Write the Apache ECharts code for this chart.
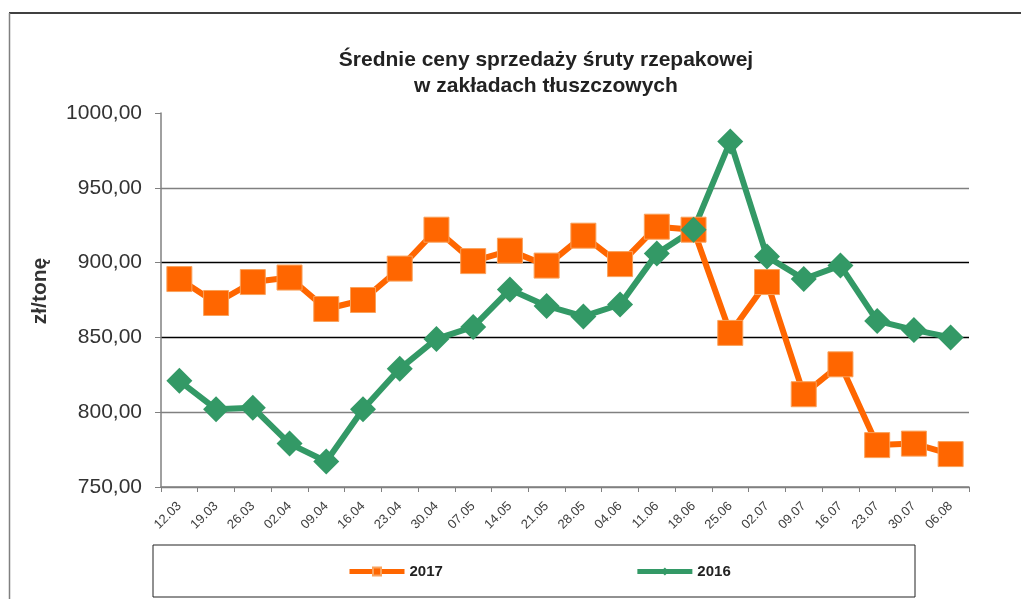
<!DOCTYPE html>
<html>
<head>
<meta charset="utf-8">
<script src="https://cdn.jsdelivr.net/npm/echarts@6/dist/echarts.min.js"></script>
<style>
html, body { margin: 0; padding: 0; background: #fff; }
#chart { width: 1021px; height: 599px; }
</style>
</head>
<body>
<div id="chart"></div>
<script>
'use strict';

// daty notowań
var weeks = ['12.03', '19.03', '26.03', '02.04', '09.04', '16.04', '23.04', '30.04', '07.05', '14.05', '21.05',
    '28.05', '04.06', '11.06', '18.06', '25.06', '02.07', '09.07', '16.07', '23.07', '30.07', '06.08'];

// ceny zł/tonę
var price2017 = [889, 873, 887, 890, 869, 875, 896, 922, 901, 908, 898,
    918, 899, 924, 922, 853, 887, 812, 832, 778, 779, 772];
var price2016 = [821, 802, 803, 779, 767, 802, 829, 849, 857, 882, 871,
    864, 872, 906, 922, 981, 904, 889, 898, 861, 855, 850];

var fontName = "'Liberation Sans', Arial, sans-serif";

// kolory linii siatki: 750, 800, 850, 900, 950, 1000
var gridColors = ['#808080', '#808080', '#000000', '#000000', '#808080', 'rgba(0,0,0,0)'];

var myChart = echarts.init(document.getElementById('chart'));
var option = {
    backgroundColor: '#fff',
    animation: false,
    title: {
        text: 'Średnie ceny sprzedaży śruty rzepakowej\nw zakładach tłuszczowych',
        left: 541,
        top: 42,
        textAlign: 'center',
        textStyle: {
            fontFamily: fontName,
            fontSize: 21,
            fontWeight: 'bold',
            color: '#222',
            lineHeight: 26
        }
    },
    legend: {
        left: 347,
        top: 564,
        padding: 0,
        itemWidth: 55,
        itemHeight: 10,
        itemGap: 192,
        lineStyle: { width: 5 },
        textStyle: {
            fontFamily: fontName,
            fontSize: 15,
            fontWeight: 'bold',
            color: '#222'
        },
        data: ['2017', '2016']
    },
    grid: {
        left: 161,
        right: 52,
        top: 113,
        bottom: 112,
        containLabel: false
    },
    xAxis: {
        type: 'category',
        data: weeks,
        boundaryGap: true,
        axisLine: { lineStyle: { color: '#808080', width: 1.5 } },
        axisTick: { show: true, length: 5, lineStyle: { color: '#808080' } },
        axisLabel: {
            rotate: 45,
            margin: 17,
            fontFamily: fontName,
            fontSize: 13,
            color: '#404040',
            interval: 0
        }
    },
    yAxis: {
        type: 'value',
        min: 750,
        max: 1000,
        interval: 50,
        name: 'zł/tonę',
        nameLocation: 'middle',
        nameGap: 110,
        nameTextStyle: {
            fontFamily: fontName,
            fontSize: 21,
            fontWeight: 'bold',
            color: '#333',
            padding: [0, 0, 0, 18]
        },
        axisLine: { show: true, lineStyle: { color: '#808080', width: 1.5 } },
        axisTick: { show: true, length: 6, lineStyle: { color: '#808080' } },
        axisLabel: {
            margin: 19,
            fontFamily: fontName,
            fontSize: 21,
            color: '#333',
            formatter: function (v) { return v.toFixed(2).replace('.', ','); }
        },
        splitLine: {
            show: true,
            lineStyle: { color: gridColors, width: 1.3 }
        }
    },
    series: [
        {
            name: '2017',
            type: 'line',
            data: price2017,
            symbol: 'rect',
            symbolSize: 25,
            lineStyle: { color: '#FF6600', width: 6 },
            itemStyle: { color: '#FF6600', borderColor: '#F9A25C', borderWidth: 1 }
        },
        {
            name: '2016',
            type: 'line',
            data: price2016,
            symbol: 'diamond',
            symbolSize: 26,
            lineStyle: { color: '#339966', width: 6 },
            itemStyle: { color: '#339966' }
        }
    ],
    graphic: [
        // ramka wykresu
        { type: 'line', shape: { x1: 9, y1: 13, x2: 1021, y2: 13 }, style: { stroke: '#000', lineWidth: 1.5 } },
        { type: 'line', shape: { x1: 9.5, y1: 13, x2: 9.5, y2: 599 }, style: { stroke: '#808080', lineWidth: 1.5 } },
        // ramka legendy
        { type: 'rect', z: -1, shape: { x: 153, y: 545, width: 762, height: 52 }, style: { fill: '#fff', stroke: '#222', lineWidth: 1 } }
    ]
};
myChart.setOption(option);
</script>
</body>
</html>
